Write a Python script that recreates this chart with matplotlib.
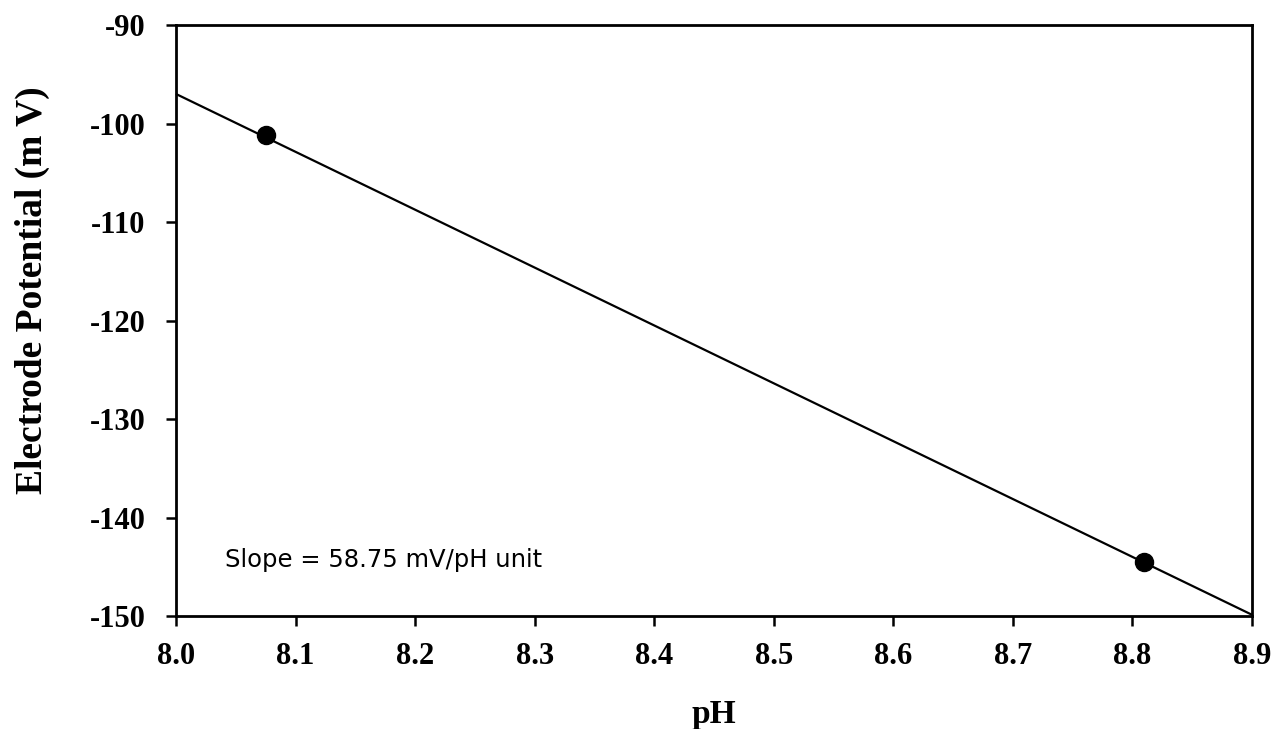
import numpy as np
import matplotlib
matplotlib.use("Agg")
import matplotlib.pyplot as plt

# measured electrode potentials
ph = [8.075, 8.81]
potential = [-101.2, -144.5]

# calibration line
slope = -58.75          # mV per pH unit
e_at_ph8 = -97.0        # mV at pH 8.0
fit_range = [8.0, 8.9]

xticks = [8.0, 8.1, 8.2, 8.3, 8.4, 8.5, 8.6, 8.7, 8.8, 8.9]
yticks = [-150, -140, -130, -120, -110, -100, -90]

plt.rcParams['font.family'] = ['Liberation Serif', 'DejaVu Serif']
plt.rcParams['axes.unicode_minus'] = False

fig = plt.figure(figsize=(12.77, 7.29), dpi=100)
ax = fig.add_axes([0.1378, 0.155, 0.8426, 0.8107])

xfit = np.array(fit_range)
yfit = e_at_ph8 + slope * (xfit - 8.0)
ax.plot(xfit, yfit, color='black', lw=1.6, solid_capstyle='butt', clip_on=False)
ax.plot(ph, potential, 'o', color='black', markersize=13)

ax.set_xlim(8.0, 8.9)
ax.set_ylim(-150, -90)
ax.set_xticks(xticks)
ax.set_xticklabels([f'{v:.1f}' for v in xticks])
ax.set_yticks(yticks)

for s in ax.spines.values():
    s.set_linewidth(2.0)
ax.tick_params(direction='out', length=7, width=1.8, labelsize=22)
ax.tick_params(axis='y', pad=15)
ax.tick_params(axis='x', pad=12)
for lab in ax.get_xticklabels() + ax.get_yticklabels():
    lab.set_fontweight('bold')

ax.set_xlabel('pH', fontsize=24, fontweight='bold', labelpad=20)
ax.set_ylabel('Electrode Potential (m V)', fontsize=27, fontweight='bold')
ax.yaxis.set_label_coords(-0.117, 0.552)

ax.text(8.041, -145.0, 'Slope = 58.75 mV/pH unit', fontsize=17.5,
        family='DejaVu Sans', va='baseline', ha='left')

fig.savefig('out.png', dpi=100)
